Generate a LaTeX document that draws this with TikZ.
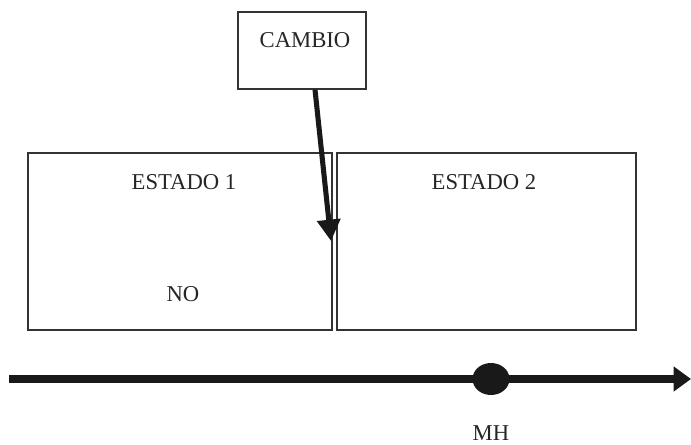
\documentclass[tikz,border=0pt]{standalone}
\usepackage{fontspec}
\setmainfont{Liberation Serif}
\usetikzlibrary{arrows.meta,calc,shapes.geometric}
\begin{document}
\begin{tikzpicture}[x=0.75pt,y=-0.75pt,
  box/.style={draw=black!80,line width=1pt,rectangle,inner sep=0pt},
  lbl/.style={font=\fontsize{17}{20}\selectfont,text=black!85,inner sep=0pt},
  bigarrow/.style={line width=3.8pt,black!90,-{Triangle[width=17pt,length=16pt]}},
  timeline/.style={line width=6pt,black!90,-{Triangle[width=18pt,length=13pt]}}]
\useasboundingbox (0,0) rectangle (691,445);
% boxes
\node[box,minimum width=128*0.75pt,minimum height=77*0.75pt] (cambio) at (302,50.5) {};
\node[box,minimum width=304*0.75pt,minimum height=177*0.75pt] (e1) at (180,241.5) {};
\node[box,minimum width=299*0.75pt,minimum height=177*0.75pt] (e2) at (486.5,241.5) {};
% texts
\node[lbl] (tcambio) at (305,40) {CAMBIO};
\node[lbl] (te1) at (184,182) {ESTADO 1};
\node[lbl] (te2) at (484,182) {ESTADO 2};
\node[lbl] (tno) at (183,294) {NO};
\node[lbl] (tmh) at (491,433) {MH};
% change arrow
\coordinate (atip) at (331,241);
\draw[bigarrow] ($(cambio.south)+(13,0)$) -- (atip);
% time line
\coordinate (tstart) at (9,379);
\coordinate (tend) at (691,379);
\draw[timeline] (tstart) -- (tend);
\node[ellipse,fill=black!90,minimum width=37*0.75pt,minimum height=32*0.75pt,inner sep=0pt] (mh) at (491,379) {};
\end{tikzpicture}
\end{document}
